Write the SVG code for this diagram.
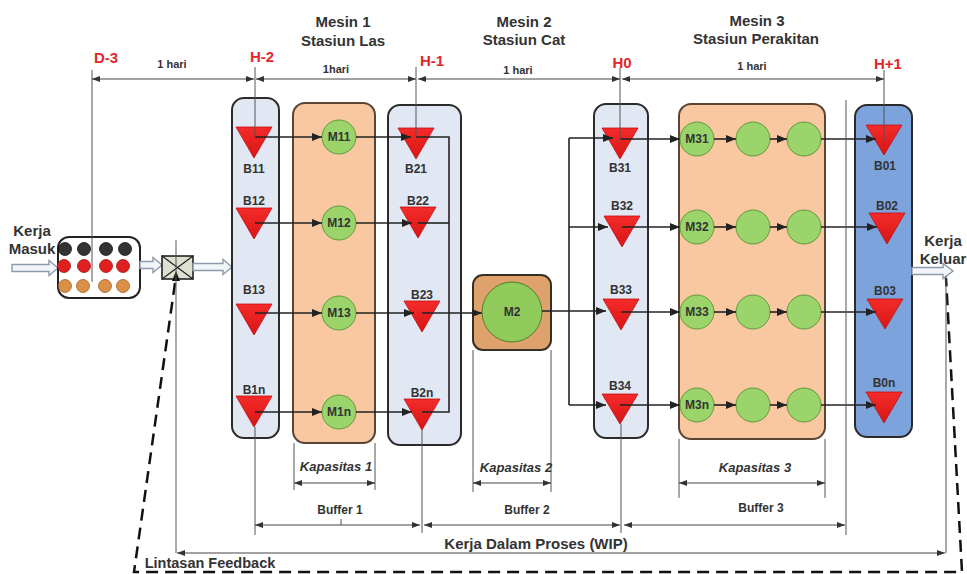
<svg xmlns="http://www.w3.org/2000/svg" width="967" height="574" viewBox="0 0 967 574">
<defs>
<marker id="ah" markerUnits="userSpaceOnUse" markerWidth="10" markerHeight="8" refX="10" refY="4" orient="auto"><path d="M0,0 L10,4 L0,8 z" fill="#222"/></marker>
<marker id="dh" markerUnits="userSpaceOnUse" markerWidth="8" markerHeight="6" refX="8" refY="3" orient="auto-start-reverse"><path d="M0,0 L8,3 L0,6 z" fill="#333"/></marker>
<linearGradient id="rg" x1="0" y1="0" x2="0" y2="1"><stop offset="0" stop-color="#f52b2b"/><stop offset="1" stop-color="#d71414"/></linearGradient>
</defs>
<style>
text{font-family:"Liberation Sans",Arial,sans-serif;font-weight:bold;fill:#333;text-anchor:middle}
.ti{font-size:15px}
.red{font-size:15px;fill:#e3262a}
.sm{font-size:11px}
.lb{font-size:12px}
.it{font-size:13px;font-style:italic}
.col{fill:#e2e8f3;stroke:#2b2b2b;stroke-width:2}
.blue{fill:#7da3dd;stroke:#2b2b2b;stroke-width:2}
.org{fill:#f9c8a0;stroke:#5a4535;stroke-width:2}
.org2{fill:#e0a26c;stroke:#3a2f25;stroke-width:2}
.g{fill:#9bd46b;stroke:#5f9a3a;stroke-width:1}
.tri{fill:url(#rg);stroke:#c01010;stroke-width:0.8}
.c{fill:none;stroke:#222;stroke-width:1.6}
.ca{fill:none;stroke:#222;stroke-width:1.6;marker-end:url(#ah)}
.ref{fill:none;stroke:#555;stroke-width:1}
.dim{fill:none;stroke:#444;stroke-width:1;marker-start:url(#dh);marker-end:url(#dh)}
.hol{fill:#f2f5f9;stroke:#8e9aab;stroke-width:1.4}
.dash{fill:none;stroke:#111;stroke-width:2.5;stroke-dasharray:12 7}
</style>
<rect width="967" height="574" fill="#fff"/>

<!-- titles -->
<g id="titles">
<text class="ti" x="343" y="27">Mesin 1</text>
<text class="ti" x="343" y="46">Stasiun Las</text>
<text class="ti" x="524" y="27">Mesin 2</text>
<text class="ti" x="524" y="45">Stasiun Cat</text>
<text class="ti" x="757" y="26">Mesin 3</text>
<text class="ti" x="756" y="44">Stasiun Perakitan</text>
<text class="red" x="106" y="63">D-3</text>
<text class="red" x="262" y="62">H-2</text>
<text class="red" x="432" y="66">H-1</text>
<text class="red" x="622" y="68">H0</text>
<text class="red" x="888" y="69">H+1</text>
<text class="sm" x="172" y="68">1 hari</text>
<text class="sm" x="336" y="73">1hari</text>
<text class="sm" x="518" y="74">1 hari</text>
<text class="sm" x="752" y="70">1 hari</text>
</g>

<!-- input -->
<g id="input">
<text class="ti" x="32" y="236">Kerja</text>
<text class="ti" x="32" y="254">Masuk</text>
<path class="hol" d="M12,264.5 H49 V260.5 L58,268 L49,275.5 V271.5 H12 Z"/>
</g>

<g id="queue">
<rect x="58" y="237" width="82" height="61" rx="11" fill="#fff" stroke="#222" stroke-width="2"/>
<g fill="#333" stroke="#111" stroke-width="0.8">
<circle cx="65" cy="249" r="6.5"/><circle cx="84" cy="249" r="6.5"/><circle cx="106" cy="249" r="6.5"/><circle cx="125" cy="249" r="6.5"/>
</g>
<g fill="#e02020" stroke="#a01010" stroke-width="0.8">
<circle cx="64" cy="266" r="6.5"/><circle cx="84" cy="266" r="6.5"/><circle cx="106" cy="266" r="6.5"/><circle cx="123" cy="266" r="6.5"/>
</g>
<g fill="#d98f45" stroke="#a0652a" stroke-width="0.8">
<circle cx="65" cy="286" r="6.5"/><circle cx="83" cy="286" r="6.5"/><circle cx="105" cy="286" r="6.5"/><circle cx="123" cy="286" r="6.5"/>
</g>
</g>

<g id="gate">
<path class="hol" d="M140,261.5 H153 V257.5 L162,265 L153,272.5 V268.5 H140 Z"/>
<rect x="162" y="256" width="31" height="23" fill="#dde1d1" stroke="#222" stroke-width="1.6"/>
<path d="M162,256 L193,279 M193,256 L162,279" stroke="#222" stroke-width="1.2" fill="none"/>
<polygon points="172,281 180,281 176,271" fill="#111"/>
<path class="hol" d="M193,263.5 H223 V259.5 L232,267 L223,274.5 V270.5 H193 Z"/>
</g>

<!-- columns -->
<g id="col-B1"><rect class="col" x="232" y="98" width="47" height="340" rx="12"/></g>
<g id="col-M1"><rect class="org" x="293" y="103" width="82" height="340" rx="12"/></g>
<g id="col-B2"><rect class="col" x="388" y="105" width="73" height="340" rx="12"/></g>
<g id="col-M2"><rect class="org2" x="473" y="275" width="78" height="75" rx="10"/></g>
<g id="col-B3"><rect class="col" x="594" y="104" width="54" height="334" rx="12"/></g>
<g id="col-M3"><rect class="org" x="679" y="104" width="146" height="335" rx="12"/></g>
<g id="col-B0"><rect class="blue" x="855" y="105" width="57" height="332" rx="12"/></g>

<!-- buffers B1 -->
<g id="B11"><polygon class="tri" points="236,127 272,127 254,158"/><text class="lb" x="254" y="173">B11</text></g>
<g id="B12"><polygon class="tri" points="236,208 272,208 254,239"/><text class="lb" x="254" y="205">B12</text></g>
<g id="B13"><polygon class="tri" points="236,304 272,304 254,335"/><text class="lb" x="254" y="294">B13</text></g>
<g id="B1n"><polygon class="tri" points="236,396 272,396 254,427"/><text class="lb" x="254" y="394">B1n</text></g>
<!-- M1 -->
<g id="M11"><circle class="g" cx="339" cy="137" r="17"/><text class="lb" x="339" y="141">M11</text></g>
<g id="M12"><circle class="g" cx="339" cy="223" r="17"/><text class="lb" x="339" y="227">M12</text></g>
<g id="M13"><circle class="g" cx="339" cy="313" r="17"/><text class="lb" x="339" y="317">M13</text></g>
<g id="M1n"><circle class="g" cx="339" cy="412" r="17"/><text class="lb" x="339" y="416">M1n</text></g>
<!-- B2 -->
<g id="B21"><polygon class="tri" points="398,128 434,128 416,159"/><text class="lb" x="416" y="173">B21</text></g>
<g id="B22"><polygon class="tri" points="400,207 436,207 418,238"/><text class="lb" x="418" y="205">B22</text></g>
<g id="B23"><polygon class="tri" points="404,301 440,301 422,332"/><text class="lb" x="422" y="299">B23</text></g>
<g id="B2n"><polygon class="tri" points="404,399 440,399 422,430"/><text class="lb" x="422" y="397">B2n</text></g>
<!-- M2 -->
<g id="M2"><circle cx="512" cy="312" r="30" fill="#8fca5a" stroke="#4f7f2a" stroke-width="1"/><text class="lb" x="512" y="316">M2</text></g>
<!-- B3 -->
<g id="B31"><polygon class="tri" points="602,128 638,128 620,159"/><text class="lb" x="620" y="172">B31</text></g>
<g id="B32"><polygon class="tri" points="604,216 640,216 622,247"/><text class="lb" x="622" y="210">B32</text></g>
<g id="B33"><polygon class="tri" points="603,299 639,299 621,330"/><text class="lb" x="621" y="294">B33</text></g>
<g id="B34"><polygon class="tri" points="602,394 638,394 620,424"/><text class="lb" x="620" y="390">B34</text></g>
<!-- M3 -->
<g id="M31"><circle class="g" cx="697" cy="139" r="17"/><text class="lb" x="697" y="143">M31</text></g>
<g id="M31b"><circle class="g" cx="753" cy="139" r="17"/></g>
<g id="M31c"><circle class="g" cx="804" cy="139" r="17"/></g>
<g id="M32"><circle class="g" cx="697" cy="227" r="17"/><text class="lb" x="697" y="231">M32</text></g>
<g id="M32b"><circle class="g" cx="753" cy="227" r="17"/></g>
<g id="M32c"><circle class="g" cx="804" cy="227" r="17"/></g>
<g id="M33"><circle class="g" cx="697" cy="312" r="17"/><text class="lb" x="697" y="316">M33</text></g>
<g id="M33b"><circle class="g" cx="753" cy="312" r="17"/></g>
<g id="M33c"><circle class="g" cx="804" cy="312" r="17"/></g>
<g id="M3n"><circle class="g" cx="697" cy="405" r="17"/><text class="lb" x="697" y="409">M3n</text></g>
<g id="M3nb"><circle class="g" cx="753" cy="405" r="17"/></g>
<g id="M3nc"><circle class="g" cx="804" cy="405" r="17"/></g>
<!-- B0 -->
<g id="B01"><polygon class="tri" points="866,125 902,125 884,155"/><text class="lb" x="885" y="170">B01</text></g>
<g id="B02"><polygon class="tri" points="869,213 905,213 887,244"/><text class="lb" x="887" y="210">B02</text></g>
<g id="B03"><polygon class="tri" points="867,299 903,299 885,329"/><text class="lb" x="885" y="295">B03</text></g>
<g id="B0n"><polygon class="tri" points="866,392 902,392 884,423"/><text class="lb" x="884" y="387">B0n</text></g>

<g id="output">
<path class="hol" d="M912,267.5 H943 V263.5 L953,271 L943,278.5 V274.5 H912 Z"/>
<text class="ti" x="943" y="246">Kerja</text>
<text class="ti" x="943" y="264">Keluar</text>
</g>

<!-- connectors -->
<g id="connectors">
<path class="ca" d="M255,137 H322"/>
<path class="ca" d="M255,223 H322"/>
<path class="ca" d="M255,313 H322"/>
<path class="ca" d="M255,412 H322"/>
<path class="ca" d="M356,137 H411"/>
<path class="ca" d="M356,223 H412"/>
<path class="ca" d="M356,313 H414"/>
<path class="ca" d="M356,412 H412"/>
<path class="c" d="M416,137 H449 V412 H422"/>
<path class="c" d="M418,223 H449"/>
<path class="ca" d="M422,313 H482"/>
<path class="ca" d="M542,311 H606"/>
<path class="c" d="M569,138 V405"/>
<path class="ca" d="M569,138 H613"/>
<path class="ca" d="M569,227 H608"/>
<path class="ca" d="M569,405 H606"/>
<path class="ca" d="M620,139 H680"/>
<path class="ca" d="M622,227 H680"/>
<path class="ca" d="M621,312 H680"/>
<path class="ca" d="M620,405 H680"/>
<path class="ca" d="M714,139 H736"/>
<path class="ca" d="M770,139 H787"/>
<path class="ca" d="M821,139 H876"/>
<path class="ca" d="M714,227 H736"/>
<path class="ca" d="M770,227 H787"/>
<path class="ca" d="M821,227 H877"/>
<path class="ca" d="M714,312 H736"/>
<path class="ca" d="M770,312 H787"/>
<path class="ca" d="M821,312 H876"/>
<path class="ca" d="M714,405 H736"/>
<path class="ca" d="M770,405 H787"/>
<path class="ca" d="M821,405 H876"/>
<path class="dash" d="M175,283 L134,572 L962,572 L946,278"/>
</g>

<!-- reference lines and dimensions -->
<g id="dimensions">
<path class="ref" d="M92,70 V282 M255,67 V137 M255,427 V535 M416,67 V137 M422,430 V533 M620,68 V140 M621,424 V533 M884,70 V141 M846,100 V535 M176,240 V553 M946,276 V553 M294,443 V490 M375,443 V490 M473,350 V492 M551,350 V492 M679,439 V498 M825,439 V498 M341,519 V525"/>
<path class="dim" d="M92,79 H254"/>
<path class="dim" d="M256,79 H416"/>
<path class="dim" d="M418,79 H620"/>
<path class="dim" d="M622,79 H884"/>
<path class="dim" d="M294,483 H375"/>
<path class="dim" d="M473,483 H551"/>
<path class="dim" d="M679,483 H825"/>
<path class="dim" d="M255,525 H420"/>
<path class="dim" d="M424,525 H620"/>
<path class="dim" d="M624,525 H845"/>
<path class="dim" d="M177,553 H945"/>
<text class="it" x="336" y="471">Kapasitas 1</text>
<text class="it" x="516" y="472">Kapasitas 2</text>
<text class="it" x="755" y="472">Kapasitas 3</text>
<text class="lb" x="340" y="514">Buffer 1</text>
<text class="lb" x="527" y="514">Buffer 2</text>
<text class="lb" x="761" y="512">Buffer 3</text>
<text class="ti" x="536" y="549">Kerja Dalam Proses (WIP)</text>
<text style="font-size:14.5px" x="210" y="568">Lintasan Feedback</text>
</g>
</svg>
